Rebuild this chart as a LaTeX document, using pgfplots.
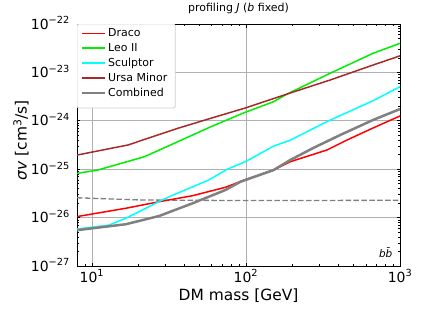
\documentclass[border=0pt]{standalone}
\usepackage{fontspec}
\setmainfont{DejaVu Sans}
\usepackage{pgfplots}
\pgfplotsset{compat=1.18}
\definecolor{dracored}{HTML}{FF0000}
\definecolor{leogreen}{HTML}{00EE00}
\definecolor{sculcyan}{HTML}{00FFFF}
\definecolor{ursabrown}{HTML}{A52A2A}
\definecolor{combgray}{HTML}{808080}
\definecolor{gridgray}{HTML}{B0B0B0}
\definecolor{legframe}{HTML}{D0D0D0}
\begin{document}
\begin{tikzpicture}
\begin{axis}[
  at={(0bp,0bp)}, anchor=south west,
  scale only axis, width=323bp, height=242bp,
  xmode=log, ymode=log,
  xmin=8, xmax=1000, ymin=1e-27, ymax=1e-22,
  xtick={10,100,1000},
  xticklabels={10\textsuperscript{1},10\textsuperscript{2},10\textsuperscript{3}},
  ytick={1e-27,1e-26,1e-25,1e-24,1e-23,1e-22},
  yticklabels={10\textsuperscript{−27},10\textsuperscript{−26},10\textsuperscript{−25},10\textsuperscript{−24},10\textsuperscript{−23},10\textsuperscript{−22}},
  minor xtick={8,9,20,30,40,50,60,70,80,90,200,300,400,500,600,700,800,900},
  minor ytick={2e-27,3e-27,4e-27,5e-27,6e-27,7e-27,8e-27,9e-27,
               2e-26,3e-26,4e-26,5e-26,6e-26,7e-26,8e-26,9e-26,
               2e-25,3e-25,4e-25,5e-25,6e-25,7e-25,8e-25,9e-25,
               2e-24,3e-24,4e-24,5e-24,6e-24,7e-24,8e-24,9e-24,
               2e-23,3e-23,4e-23,5e-23,6e-23,7e-23,8e-23,9e-23},
  tick align=inside,
  major tick length=3.5bp, minor tick length=2bp,
  every tick/.style={black, line width=0.8bp},
  minor tick style={line width=0.6bp},
  axis line style={line width=0.8bp},
  grid=major,
  major grid style={color=gridgray, line width=0.8bp},
  ticklabel style={font=\fontsize{14}{16}\selectfont},
  xticklabel style={anchor=base, yshift=-16bp, inner sep=0pt},
  yticklabel style={anchor=base east, yshift=-5bp, xshift=-7bp, inner sep=0pt},
  xlabel={DM mass [GeV]},
  xlabel style={font=\fontsize{15.5}{18}\selectfont, at={(axis description cs:0.5,0)}, anchor=base, yshift=-34bp},
  ylabel={\textit{σv} [cm\textsuperscript{3}/s]},
  ylabel style={font=\fontsize{15.5}{18}\selectfont, at={(axis description cs:-0.1734,0.52)}, anchor=center},
  title={profiling \textit{J} (\textit{b} fixed)},
  title style={font=\fontsize{11}{13}\selectfont, at={(axis description cs:0.5,1)}, anchor=base, yshift=7bp},
  legend style={at={(0,1)}, anchor=north west, draw=none, fill=none,
     font=\fontsize{11}{13}\selectfont, inner xsep=3.5bp, inner ysep=2.5bp,
     row sep=1.2bp},
  legend cell align=left,
  legend image code/.code={\draw[#1] (0bp,0bp) -- (23bp,0bp);},
]
\addplot[draw=combgray, line width=1.3bp, dash pattern=on 5.5bp off 2.4bp, forget plot] coordinates {
 (8,2.57e-26) (21,2.31e-26) (100,2.25e-26) (1000,2.28e-26)};
\draw[draw=legframe, fill=white, line width=0.8bp, rounded corners=2bp]
  (rel axis cs:0,1) rectangle (rel axis cs:0.304,0.653);
\addplot[draw=dracored, line width=1.5bp] coordinates {
 (8,1.05e-26) (16.6,1.56e-26) (27.3,2.13e-26) (44.9,2.83e-26) (73.6,4.23e-26)
 (100,6.18e-26) (151,9.6e-26) (194,1.43e-25) (335,2.49e-25) (452,4.0e-25)
 (668,7.1e-25) (1000,1.26e-24)};
\addlegendentry{Draco}
\addplot[draw=leogreen, line width=1.5bp] coordinates {
 (8,8.2e-26) (10.9,9.6e-26) (21.9,1.81e-25) (36.1,3.70e-25) (59.2,7.55e-25)
 (97.3,1.47e-24) (151,2.48e-24) (185,3.58e-24) (352,9.6e-24) (668,2.48e-23) (1000,4.0e-23)};
\addlegendentry{Leo II}
\addplot[draw=sculcyan, line width=1.5bp] coordinates {
 (8,5.8e-27) (12.9,7.0e-27) (16.6,9.7e-27) (21.3,1.44e-26) (28,2.24e-26)
 (35,3.08e-26) (57.5,6.0e-26) (75.6,1.0e-25) (100,1.45e-25) (151,3.0e-25)
 (194,3.98e-25) (335,9.6e-25) (668,2.6e-24) (1000,5.07e-24)};
\addlegendentry{Sculptor}
\addplot[draw=ursabrown, line width=1.5bp] coordinates {
 (8,1.96e-25) (17.1,3.16e-25) (36.1,7.0e-25) (59.2,1.13e-24) (97.3,1.81e-24)
 (185,3.58e-24) (352,6.97e-24) (668,1.42e-23) (1000,2.2e-23)};
\addlegendentry{Ursa Minor}
\addplot[draw=combgray, line width=2.5bp] coordinates {
 (8,5.5e-27) (16.6,7.3e-27) (27.3,1.08e-26) (44.9,1.97e-26) (73.6,3.72e-26)
 (92,5.5e-26) (151,9.6e-26) (194,1.55e-25) (273,2.74e-25) (409,5.09e-25)
 (668,1.04e-24) (1000,1.75e-24)};
\addlegendentry{Combined}
\node[anchor=base east, font=\fontsize{10.5}{12}\selectfont, inner sep=0pt] at (rel axis cs:0.978,0.037) {\textit{bb̄}};
\end{axis}
\pgfresetboundingbox
\path[use as bounding box] (-77bp,-50bp) rectangle (344bp,266bp);
\end{tikzpicture}
\end{document}
